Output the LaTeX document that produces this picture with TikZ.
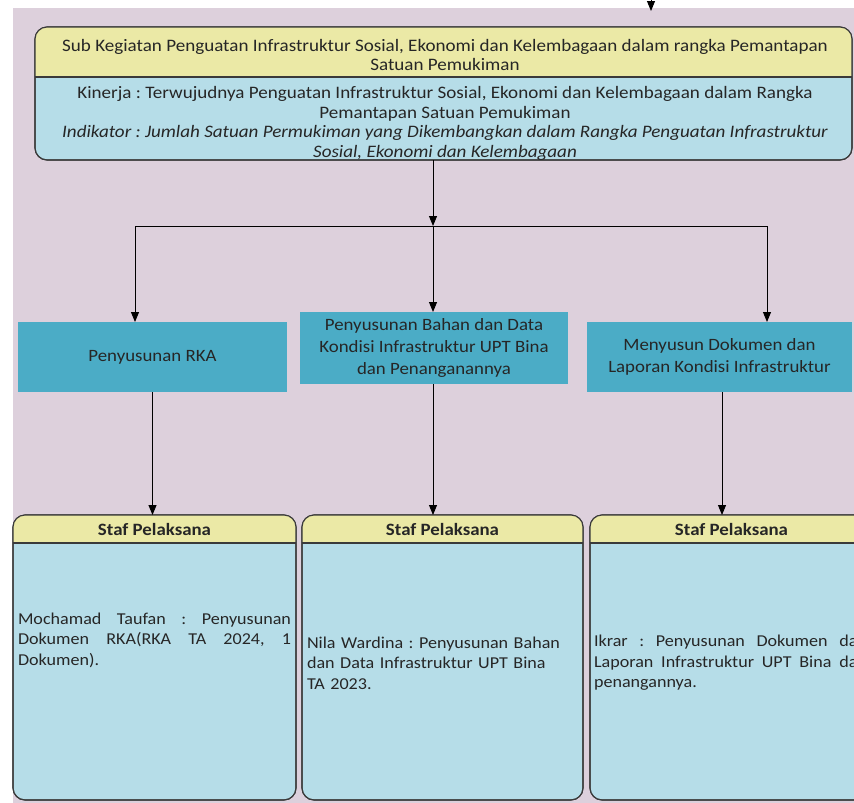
\documentclass[tikz,border=0pt]{standalone}
\usepackage{fontspec}
\setmainfont{Carlito}[FakeStretch=1.09]
\usetikzlibrary{arrows.meta}
\frenchspacing

\definecolor{pagebg}{HTML}{DDD0DC}
\definecolor{hdrfill}{HTML}{EBE9A6}
\definecolor{bodyfill}{HTML}{B6DDE8}
\definecolor{tealfill}{HTML}{4BACC6}
\definecolor{rim}{HTML}{3A3A3A}

\tikzset{
  arr/.style={draw=black, line width=0.9pt, -{Triangle[length=10pt,width=8pt]}},
  link/.style={draw=black, line width=0.9pt},
  cardbox/.style={rectangle, rounded corners=12pt, fill=bodyfill, draw=rim,
    line width=1.1pt, outer sep=0pt, inner sep=0pt},
  taskbox/.style={rectangle, fill=tealfill, outer sep=0pt, inner sep=0pt,
    font=\fontsize{17.3}{22}\selectfont, text=black!85, align=center},
  toptext/.style={font=\fontsize{17.5}{19.5}\selectfont, align=center, text=black!85},
  hdrtext/.style={font=\fontsize{17.3}{19}\selectfont\bfseries, text=black!85},
  bodytext/.style={font=\fontsize{16.6}{20.5}\selectfont, text=black!85,
    text width=273pt, inner sep=0pt},
}

\begin{document}
\begin{tikzpicture}[x=1pt, y=-1pt]
  \useasboundingbox (0,0) rectangle (854,803);
  \fill[white] (0,0) rectangle (854,803);
  \fill[pagebg] (13,8) rectangle (854,803);

  % incoming arrow from the level above
  \coordinate (inA) at (651,-6);
  \coordinate (inB) at (651,11);
  \draw[arr] (inA) -- (inB);

  % sub-activity card
  \node[cardbox, minimum width=817pt, minimum height=133pt] (top) at (443.5,93.5) {};
  \begin{scope}
    \clip[rounded corners=12pt] (top.south west) rectangle (top.north east);
    \fill[hdrfill] (top.north west) rectangle ([yshift=-50pt]top.north east);
  \end{scope}
  \draw[rim, line width=1.1pt] ([yshift=-50pt]top.north west) -- ([yshift=-50pt]top.north east);
  \draw[rim, line width=1.1pt, rounded corners=12pt] (top.south west) rectangle (top.north east);
  \node[toptext] (toph) at (445,55) {Sub Kegiatan Penguatan Infrastruktur Sosial, Ekonomi dan Kelembagaan dalam rangka Pemantapan\\Satuan Pemukiman};
  \node[toptext] (topb) at (445,123.5) {Kinerja : Terwujudnya Penguatan Infrastruktur Sosial, Ekonomi dan Kelembagaan dalam Rangka\\Pemantapan Satuan Pemukiman\\\itshape Indikator : Jumlah Satuan Permukiman yang Dikembangkan dalam Rangka Penguatan Infrastruktur\\\itshape Sosial, Ekonomi dan Kelembagaan};

  % task boxes
  \node[taskbox, minimum width=269pt, minimum height=70pt] (b1) at (152.5,357) {Penyusunan RKA};
  \node[taskbox, minimum width=268pt, minimum height=72pt] (b2) at (434,348) {Penyusunan Bahan dan Data\\Kondisi Infrastruktur UPT Bina\\dan Penanganannya};
  \node[taskbox, minimum width=265pt, minimum height=70pt] (b3) at (719.5,357) {Menyusun Dokumen dan\\Laporan Kondisi Infrastruktur};

  % branching connector
  \coordinate (barL) at (135,226);
  \coordinate (barM) at (433,226);
  \coordinate (barR) at (767,226);
  \draw[link] (barL) -- (barR);
  \draw[arr] (top.south -| barM) -- (barM);
  \draw[arr] (barL) -- (barL |- b1.north);
  \draw[arr] (barM) -- (barM |- b2.north);
  \draw[arr] (barR) -- (barR |- b3.north);

  % staff cards
  \foreach \n/\cx/\w in {s1/154.5/283, s2/442.5/281, s3/731.5/283}{
    \node[cardbox, minimum width=\w pt, minimum height=285pt] (\n) at (\cx,657.5) {};
    \begin{scope}
      \clip[rounded corners=12pt] (\n.south west) rectangle (\n.north east);
      \fill[hdrfill] (\n.north west) rectangle ([yshift=-28pt]\n.north east);
    \end{scope}
    \draw[rim, line width=1.1pt] ([yshift=-28pt]\n.north west) -- ([yshift=-28pt]\n.north east);
    \draw[rim, line width=1.1pt, rounded corners=12pt] (\n.south west) rectangle (\n.north east);
    \node[hdrtext] (\n h) at ([yshift=-14pt]\n.north) {Staf Pelaksana};
  }

  \draw[arr] (b1.south) -- (b1.south |- s1.north);
  \draw[arr] (b2.south -| barM) -- (barM |- s2.north);
  \draw[arr] (b3.south -| 722,0) -- (722,0 |- s3.north);

  \node[bodytext, align=justify] (t1) at (154.5,640) {Mochamad Taufan : Penyusunan\linebreak Dokumen RKA(RKA TA 2024, 1\linebreak Dokumen).};
  \node[bodytext, align=left] (t2) at (443.5,663) {Nila Wardina : Penyusunan Bahan\\dan Data Infrastruktur UPT Bina\\TA 2023.};
  \node[bodytext, align=justify] (t3) at (730.5,663) {Ikrar : Penyusunan Dokumen dan\linebreak Laporan Infrastruktur UPT Bina dan\linebreak penangannya.};
\end{tikzpicture}
\end{document}
